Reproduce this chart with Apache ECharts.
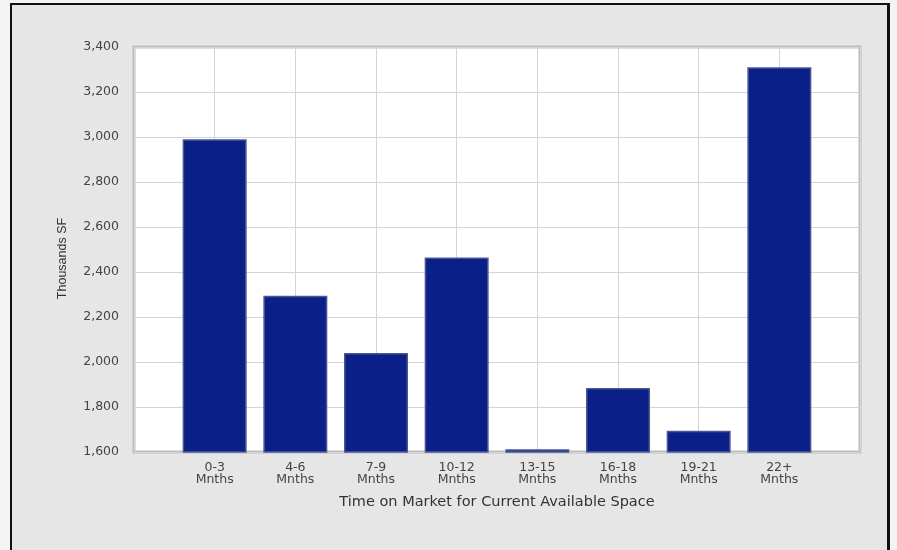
<!DOCTYPE html>
<html>
<head>
<meta charset="utf-8">
<script src="https://cdn.jsdelivr.net/npm/echarts@6/dist/echarts.min.js"></script>
<style>
html,body{margin:0;padding:0;background:#f4f4f4;}
#frame{position:absolute;left:10px;top:3px;width:875px;height:560px;border-left:2px solid #111;border-top:2px solid #111;border-right:3px solid #111;background:#e6e6e6;}
#chart{position:absolute;left:0;top:0;width:897px;height:550px;}
</style>
</head>
<body>
<div id="frame"></div>
<div id="chart"></div>
<script>
var categories = ['0-3\nMnths','4-6\nMnths','7-9\nMnths','10-12\nMnths','13-15\nMnths','16-18\nMnths','19-21\nMnths','22+\nMnths'];
var values = [2990, 2295, 2040, 2465, 1612, 1885, 1695, 3310];
var yTicks = [1600, 3400, 200];
var yAxisTitle = 'Thousands SF';
var xAxisTitle = 'Time on Market for Current Available Space';

// pad with an empty slot at each end so categories sit on the grid lines
var axisData = [''].concat(categories).concat(['']);
var seriesData = [null].concat(values).concat([null]);

var chart = echarts.init(document.getElementById('chart'), null, {renderer: 'canvas'});
chart.setOption({
  backgroundColor: 'transparent',
  animation: false,
  grid: {
    left: 134, top: 47, right: 37, bottom: 98,
    show: true, backgroundColor: '#ffffff', borderColor: '#bdbdbd', borderWidth: 3
  },
  xAxis: {
    type: 'category',
    data: axisData,
    boundaryGap: false,
    axisLine: {show: false},
    axisTick: {show: false},
    splitLine: {show: true, lineStyle: {color: '#d4d4d4', width: 1}},
    axisLabel: {
      color: '#444', fontFamily: 'DejaVu Sans', fontSize: 12.5, lineHeight: 12.5,
      margin: 9, interval: 0
    },
    name: xAxisTitle,
    nameLocation: 'middle',
    nameGap: 43,
    nameTextStyle: {color: '#333', fontFamily: 'DejaVu Sans', fontSize: 14.5}
  },
  yAxis: {
    type: 'value',
    min: yTicks[0], max: yTicks[1], interval: yTicks[2],
    axisLine: {show: false},
    axisTick: {show: false},
    splitLine: {show: true, lineStyle: {color: '#d4d4d4', width: 1}},
    axisLabel: {
      color: '#444', fontFamily: 'DejaVu Sans', fontSize: 12.5, margin: 15,
      formatter: function (v) { return v.toLocaleString('en-US'); }
    },
    name: yAxisTitle,
    nameLocation: 'middle',
    nameGap: 65,
    nameTextStyle: {color: '#333', fontFamily: 'Liberation Sans', fontSize: 12.5, padding: [0, 18, 0, 0]}
  },
  series: [{
    type: 'bar',
    data: seriesData,
    barWidth: 64,
    itemStyle: {
      color: '#0a2088',
      borderColor: '#4b5794',
      borderWidth: 1.5
    }
  }]
});
</script>
</body>
</html>
